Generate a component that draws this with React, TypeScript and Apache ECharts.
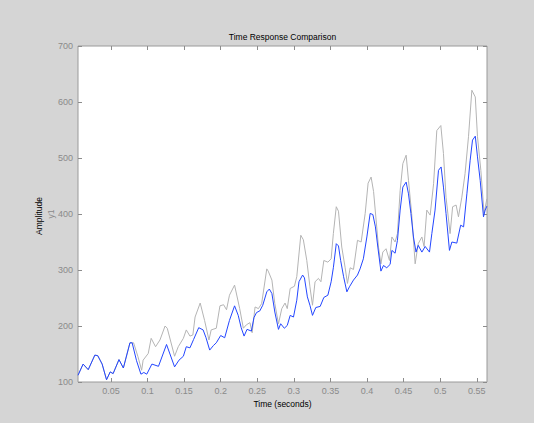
import React, { useEffect, useRef } from "react";
import * as echarts from "echarts";

// Blue series (y1) — time (s) and amplitude
const blueTime = [
  0.005, 0.012, 0.019, 0.028, 0.032, 0.038, 0.044, 0.049, 0.053, 0.061, 0.067, 0.076, 0.079, 0.085, 0.091, 0.095,
  0.099, 0.106, 0.115, 0.126, 0.137, 0.143, 0.149, 0.153, 0.158, 0.163, 0.17, 0.176, 0.18, 0.185, 0.19, 0.194,
  0.2, 0.2055, 0.212, 0.219, 0.224, 0.228, 0.232, 0.236, 0.242, 0.2455, 0.249, 0.2535, 0.2575, 0.263, 0.2665, 0.27,
  0.274, 0.279, 0.282, 0.287, 0.291, 0.295, 0.2995, 0.304, 0.307, 0.312, 0.3145, 0.3185, 0.322, 0.3255, 0.33, 0.336,
  0.341, 0.3465, 0.351, 0.354, 0.358, 0.361, 0.364, 0.368, 0.3725, 0.376, 0.3815, 0.387, 0.3905, 0.395, 0.3998, 0.4043,
  0.408, 0.4115, 0.4148, 0.419, 0.4225, 0.427, 0.4316, 0.434, 0.4384, 0.4416, 0.4453, 0.449, 0.4535, 0.4567, 0.46, 0.4635,
  0.467, 0.47, 0.475, 0.4795, 0.4854, 0.4886, 0.493, 0.4977, 0.5013, 0.5045, 0.508, 0.5127, 0.516, 0.5227, 0.528, 0.532,
  0.5365, 0.541, 0.5442, 0.548, 0.551, 0.5547, 0.5592, 0.5615, 0.5638,
];
const blueValues = [
  112, 132, 122, 148, 147, 132, 104, 118, 115, 140, 125, 170, 170, 138, 114, 117,
  114, 132, 128, 167, 127, 139, 146, 163, 161, 176, 197, 193, 179, 157, 165, 170,
  183, 179, 210, 236, 219, 197, 182, 194, 191, 215, 224, 227, 237, 261, 266, 258,
  225, 194, 204, 196, 201, 219, 216, 246, 279, 291, 286, 252, 237, 219, 233, 235,
  251, 255, 279, 304, 347, 343, 317, 288, 261, 270, 282, 291, 302, 320, 359, 401,
  399, 377, 341, 298, 308, 304, 310, 335, 330, 353, 407, 448, 457, 436, 401, 359,
  332, 344, 332, 342, 332, 365, 407, 478, 484, 448, 401, 335, 350, 348, 380, 377,
  436, 496, 532, 539, 502, 460, 395, 407, 414,
];

// Gray series (comparison response)
const grayTime = [
  0.005, 0.012, 0.019, 0.028, 0.032, 0.038, 0.044, 0.049, 0.053, 0.061, 0.067, 0.076, 0.081, 0.087, 0.092, 0.094,
  0.101, 0.105, 0.111, 0.117, 0.124, 0.127, 0.137, 0.142, 0.149, 0.153, 0.158, 0.162, 0.165, 0.172, 0.178, 0.184,
  0.187, 0.194, 0.199, 0.204, 0.208, 0.212, 0.219, 0.226, 0.231, 0.235, 0.24, 0.243, 0.247, 0.2516, 0.256, 0.263,
  0.265, 0.27, 0.274, 0.279, 0.2835, 0.288, 0.291, 0.295, 0.3008, 0.304, 0.3095, 0.313, 0.3177, 0.322, 0.3255, 0.329,
  0.3336, 0.337, 0.341, 0.3465, 0.351, 0.354, 0.358, 0.361, 0.3655, 0.37, 0.3733, 0.377, 0.3815, 0.387, 0.392, 0.3975,
  0.4015, 0.4056, 0.409, 0.4157, 0.419, 0.4216, 0.426, 0.4307, 0.434, 0.4384, 0.4416, 0.4453, 0.449, 0.4535, 0.4567, 0.461,
  0.4658, 0.47, 0.475, 0.478, 0.4817, 0.4863, 0.491, 0.4954, 0.5009, 0.5045, 0.508, 0.5136, 0.517, 0.5218, 0.525, 0.5296,
  0.534, 0.5387, 0.5433, 0.548, 0.551, 0.5556, 0.56, 0.5638,
];
const grayValues = [
  112, 132, 122, 148, 147, 132, 104, 118, 115, 140, 125, 170, 170, 145, 121, 139,
  151, 178, 163, 175, 200, 196, 146, 163, 178, 193, 182, 184, 216, 241, 210, 175,
  193, 196, 236, 238, 229, 255, 273, 231, 196, 202, 206, 188, 234, 231, 240, 302,
  298, 282, 240, 204, 231, 241, 231, 267, 271, 288, 362, 354, 317, 270, 237, 279,
  285, 279, 317, 314, 320, 365, 413, 405, 341, 305, 276, 304, 301, 353, 350, 401,
  455, 466, 440, 341, 311, 332, 338, 317, 359, 350, 365, 442, 490, 505, 460, 401,
  311, 347, 359, 342, 407, 398, 454, 549, 558, 508, 430, 365, 413, 416, 395, 430,
  472, 538, 621, 609, 538, 478, 401, 427,
];

const xTicks = [0.05, 0.1, 0.15, 0.2, 0.25, 0.3, 0.35, 0.4, 0.45, 0.5, 0.55];
const xMin = 0.005;
const xMax = 0.564;
const yMin = 100;
const yMax = 700;
const yStep = 100;

const titleText = "Time Response Comparison";
const xName = "Time (seconds)";
const yName = "Amplitude";
const ySub = "y1";

export default function App() {
  const ref = useRef<HTMLDivElement>(null);
  useEffect(() => {
    if (!ref.current) return;
    const chart = echarts.init(ref.current, null, { renderer: "svg" });
    const font = "'Liberation Sans', Arial, sans-serif";
    const tickColor = "#8c8c8c";
    const pair = (ts: number[], vs: number[]) => ts.map((t, i) => [t, vs[i]]);
    const baseX = {
      type: "value" as const,
      min: xMin,
      max: xMax,
      splitLine: { show: false },
      axisLine: { show: false },
    };
    const baseY = {
      type: "value" as const,
      min: yMin,
      max: yMax,
      interval: yStep,
      splitLine: { show: false },
      axisLine: { show: false },
    };
    chart.setOption({
      animation: false,
      backgroundColor: "#d5d5d5",
      grid: {
        left: 78,
        top: 46,
        width: 409,
        height: 336,
        show: true,
        backgroundColor: "#ffffff",
        borderColor: "#9a9a9a",
        borderWidth: 1,
      },
      xAxis: [
        {
          ...baseX,
          position: "bottom",
          axisTick: { inside: true, length: 4, lineStyle: { color: tickColor }, customValues: xTicks },
          axisLabel: {
            customValues: xTicks,
            color: "#8a8a8a",
            fontSize: 9,
            fontFamily: font,
            margin: 4,
            formatter: (v: number) => String(Math.round(v * 100) / 100),
          },
        },
        {
          ...baseX,
          position: "top",
          axisTick: { inside: true, length: 4, lineStyle: { color: tickColor }, customValues: xTicks },
          axisLabel: { show: false },
        },
      ],
      yAxis: [
        {
          ...baseY,
          position: "left",
          axisTick: { inside: true, length: 4, lineStyle: { color: tickColor } },
          axisLabel: { color: "#8a8a8a", fontSize: 9, fontFamily: font, margin: 5 },
        },
        {
          ...baseY,
          position: "right",
          axisTick: { inside: true, length: 4, lineStyle: { color: tickColor } },
          axisLabel: { show: false },
        },
      ],
      graphic: [
        {
          type: "text",
          x: 282.5,
          y: 37,
          style: {
            text: titleText,
            fill: "#000",
            fontSize: 8.5,
            fontFamily: font,
            textAlign: "center",
            textVerticalAlign: "middle",
          },
        },
        {
          type: "text",
          x: 282.5,
          y: 404,
          style: {
            text: xName,
            fill: "#000",
            fontSize: 8.5,
            fontFamily: font,
            textAlign: "center",
            textVerticalAlign: "middle",
          },
        },
        {
          type: "text",
          x: 38.5,
          y: 216,
          rotation: Math.PI / 2,
          style: {
            text: yName,
            fill: "#000",
            fontSize: 8.5,
            fontFamily: font,
            textAlign: "center",
            textVerticalAlign: "middle",
          },
        },
        {
          type: "text",
          x: 51,
          y: 214,
          rotation: Math.PI / 2,
          style: {
            text: ySub,
            fill: "#8a8a8a",
            fontSize: 8.5,
            fontFamily: font,
            textAlign: "center",
            textVerticalAlign: "middle",
          },
        },
      ],
      series: [
        {
          type: "line",
          data: pair(grayTime, grayValues),
          showSymbol: false,
          lineStyle: { color: "#b4b4b4", width: 1 },
          itemStyle: { color: "#b4b4b4" },
          xAxisIndex: 0,
          yAxisIndex: 0,
        },
        {
          type: "line",
          data: pair(blueTime, blueValues),
          showSymbol: false,
          lineStyle: { color: "#2346ff", width: 1 },
          itemStyle: { color: "#2346ff" },
          xAxisIndex: 0,
          yAxisIndex: 0,
        },
      ],
    });
    return () => chart.dispose();
  }, []);
  return (
    <div
      ref={ref}
      style={{ position: "absolute", left: 0, top: 0, width: 534, height: 423 }}
    />
  );
}
